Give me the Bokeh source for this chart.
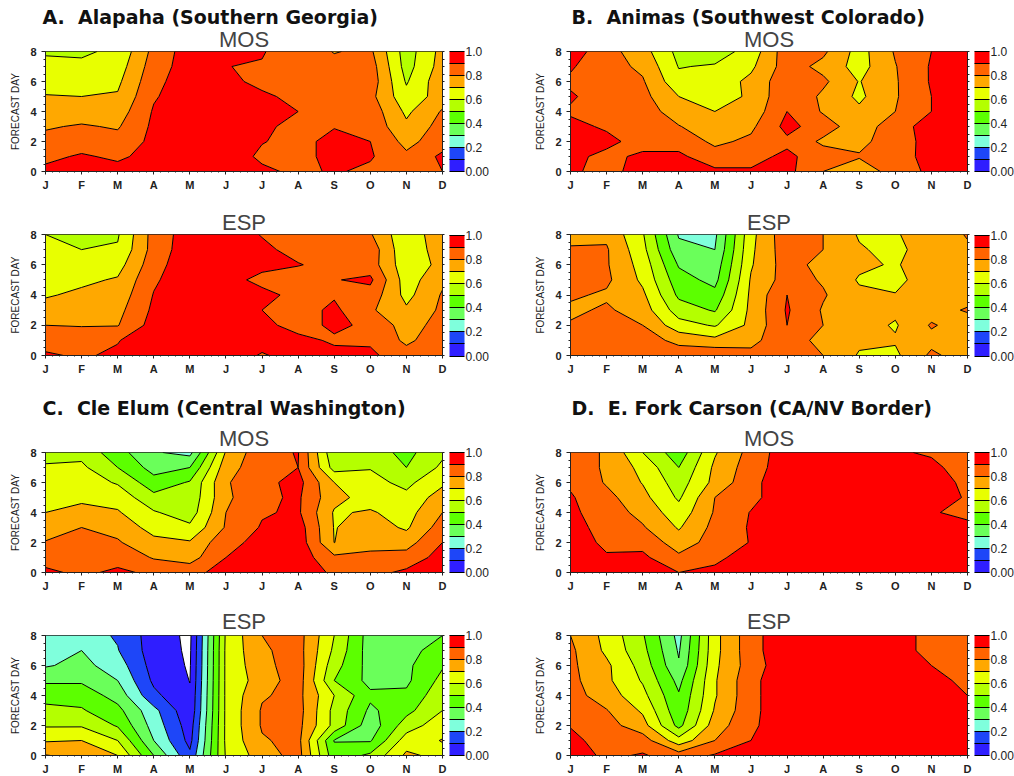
from bokeh.embed import file_html
from bokeh.resources import INLINE
from bokeh.plotting import figure
from bokeh.layouts import column, row
from bokeh.models import (ColorBar, FixedTicker, LinearAxis, LinearColorMapper, Title)
import numpy as np

MONTHS = ["J", "F", "M", "A", "M", "J", "J", "A", "S", "O", "N", "D"]
DAYS = [0, 1, 2, 3, 4, 5, 6, 7, 8]
LEVELS = [0, .1, .2, .3, .4, .5, .6, .7, .8, .9, 1.0]
COLORS = ["#2F1EFF", "#1E46F8", "#7FFFDC", "#6AFF5A", "#5CFF00", "#B4FF00", "#E8FF00", "#FFA800", "#FF6400", "#FF0000"]

# each inner list: one month, forecast days 0..8
A_MOS = [
 [.92,.88,.83,.79,.75,.705,.665,.625,.59],
 [.96,.91,.86,.81,.75,.70,.66,.62,.585],
 [.93,.885,.835,.79,.75,.71,.68,.65,.62],
 [.97,.93,.925,.92,.91,.89,.87,.85,.83],
 [.98,.97,.97,.97,.96,.96,.96,.95,.95],
 [.97,.96,.96,.95,.95,.94,.93,.901,.95],
 [.92,.88,.905,.92,.93,.92,.87,.895,.905],
 [.88,.87,.87,.87,.90,.87,.86,.85,.86],
 [.91,.93,.93,.895,.87,.86,.85,.83,.795],
 [.88,.91,.90,.87,.86,.83,.86,.85,.82],
 [.87,.82,.77,.72,.68,.63,.59,.56,.55],
 [.90,.92,.855,.84,.81,.75,.77,.745,.735],
]
A_ESP = [
 [.91,.87,.80,.74,.69,.665,.64,.62,.60],
 [.89,.85,.795,.755,.72,.68,.64,.60,.575],
 [.915,.895,.795,.77,.74,.71,.66,.61,.59],
 [.97,.96,.94,.92,.905,.885,.86,.84,.84],
 [.98,.98,.98,.98,.98,.97,.97,.96,.95],
 [.96,.96,.96,.96,.95,.94,.95,.96,.95],
 [.89,.94,.93,.90,.93,.87,.93,.92,.895],
 [.94,.93,.86,.86,.87,.85,.905,.87,.85],
 [.93,.885,.92,.92,.89,.895,.87,.86,.85],
 [.92,.885,.88,.815,.86,.92,.85,.86,.81],
 [.84,.78,.755,.715,.67,.65,.635,.62,.62],
 [.88,.86,.84,.82,.81,.78,.73,.76,.78],
]
B_MOS = [
 [.92,.92,.92,.92,.89,.91,.885,.91,.95],
 [.86,.88,.92,.89,.87,.86,.85,.84,.84],
 [.95,.915,.87,.86,.85,.83,.81,.78,.74],
 [.95,.92,.86,.805,.75,.70,.63,.595,.57],
 [.92,.84,.78,.74,.70,.67,.64,.61,.55],
 [.91,.87,.82,.78,.74,.71,.725,.68,.64],
 [.93,.92,.88,.93,.90,.89,.87,.85,.86],
 [.80,.85,.78,.85,.79,.78,.82,.77,.82],
 [.73,.81,.77,.74,.72,.68,.695,.66,.66],
 [.85,.85,.86,.86,.80,.79,.79,.795,.81],
 [.92,.94,.93,.94,.90,.90,.91,.91,.90],
 [.96,.96,.96,.96,.96,.96,.96,.96,.96],
]
B_ESP = [
 [.86,.85,.81,.78,.815,.86,.86,.82,.74],
 [.87,.86,.85,.815,.785,.82,.81,.81,.78],
 [.86,.85,.80,.75,.72,.68,.66,.63,.61],
 [.86,.77,.64,.55,.48,.44,.39,.33,.29],
 [.88,.73,.59,.49,.43,.37,.34,.30,.28],
 [.82,.78,.725,.725,.72,.71,.69,.68,.67],
 [.85,.85,.90,.91,.90,.845,.85,.86,.87],
 [.80,.77,.80,.79,.81,.79,.76,.80,.80],
 [.69,.72,.74,.74,.72,.69,.72,.71,.69],
 [.68,.71,.69,.72,.705,.67,.69,.67,.69],
 [.82,.77,.81,.76,.76,.76,.76,.76,.76],
 [.75,.75,.75,.81,.76,.76,.76,.79,.805],
]
C_MOS = [
 [.91,.88,.805,.76,.70,.67,.64,.61,.57],
 [.89,.86,.83,.80,.73,.68,.65,.62,.57],
 [.91,.88,.81,.77,.71,.66,.59,.50,.44],
 [.89,.79,.73,.66,.61,.53,.44,.36,.31],
 [.86,.76,.71,.62,.55,.53,.51,.40,.27],
 [.95,.90,.87,.81,.80,.78,.79,.76,.71],
 [.97,.96,.93,.91,.89,.88,.87,.86,.87],
 [.97,.96,.96,.95,.915,.915,.935,.90,.905],
 [.88,.82,.699,.695,.69,.73,.70,.56,.52],
 [.87,.83,.76,.75,.71,.66,.63,.595,.55],
 [.92,.84,.76,.685,.66,.625,.575,.50,.47],
 [.97,.94,.90,.85,.80,.75,.68,.62,.58],
]
C_ESP = [
 [.805,.69,.59,.53,.46,.385,.29,.25,.22],
 [.77,.70,.59,.51,.46,.385,.33,.30,.24],
 [.70,.60,.49,.43,.36,.30,.25,.205,.19],
 [.40,.30,.26,.23,.125,.08,.06,.05,.05],
 [.12,.07,.05,.02,.01,-.002,-.01,-.015,-.02],
 [.61,.62,.62,.62,.62,.62,.62,.62,.615],
 [.75,.79,.81,.81,.79,.75,.77,.785,.80],
 [.84,.83,.83,.84,.83,.85,.85,.84,.84],
 [.44,.395,.57,.57,.60,.50,.54,.58,.60],
 [.52,.39,.34,.38,.42,.37,.36,.35,.35],
 [.72,.65,.55,.47,.42,.38,.38,.37,.36],
 [.67,.705,.66,.60,.57,.53,.49,.44,.40],
]
D_MOS = [
 [.97,.96,.95,.94,.92,.91,.885,.86,.84],
 [.94,.91,.88,.86,.85,.83,.79,.785,.79],
 [.97,.92,.87,.81,.77,.73,.695,.67,.60],
 [.90,.82,.75,.69,.64,.585,.55,.50,.44],
 [.93,.87,.84,.83,.81,.80,.73,.72,.69],
 [.97,.96,.905,.91,.905,.87,.87,.85,.835],
 [.97,.97,.97,.97,.97,.97,.97,.96,.96],
 [.97,.97,.97,.97,.97,.97,.97,.97,.97],
 [.97,.97,.97,.97,.97,.97,.97,.97,.96],
 [.97,.97,.97,.97,.97,.96,.96,.95,.91],
 [.97,.97,.97,.97,.91,.95,.94,.92,.89],
 [.97,.97,.96,.93,.87,.89,.88,.86,.85],
]
D_ESP = [
 [.95,.925,.895,.87,.84,.83,.82,.82,.80],
 [.88,.86,.84,.805,.75,.72,.72,.68,.67],
 [.91,.85,.74,.685,.63,.59,.56,.53,.51],
 [.85,.64,.47,.43,.41,.37,.31,.29,.27],
 [.91,.80,.75,.71,.69,.69,.68,.67,.67],
 [.95,.90,.88,.87,.87,.87,.85,.86,.86],
 [.98,.98,.97,.98,.98,.98,.97,.98,.98],
 [.98,.98,.98,.98,.98,.98,.98,.98,.98],
 [.98,.98,.98,.98,.98,.98,.98,.98,.98],
 [.98,.98,.98,.98,.98,.97,.96,.92,.92],
 [.97,.97,.97,.97,.97,.94,.90,.885,.885],
 [.97,.97,.96,.93,.90,.87,.85,.83,.82],
]

FONT = "Liberation Sans"
INK = "#222222"


def panel(data, sub, head, head_offset, top, fh, left, right, sub_gap, head_gap):
    p = figure(frame_width=397, frame_height=fh, x_range=(0, 11), y_range=(0, 8),
               output_backend="svg", toolbar_location=None, x_axis_type=None, y_axis_type=None,
               min_border_left=left, min_border_right=right, min_border_top=top, min_border_bottom=20,
               outline_line_color=INK, outline_line_width=1, background_fill_color="white")
    p.grid.visible = False
    z = np.array(data).T
    p.contour(list(range(12)), DAYS, z, LEVELS, fill_color=COLORS, line_color="black", line_width=1)

    xa = LinearAxis(ticker=FixedTicker(ticks=list(range(12)),
                                       minor_ticks=[i / 5 for i in range(56)]),
                    major_label_overrides={i: m for i, m in enumerate(MONTHS)},
                    major_label_text_font=FONT, major_label_text_font_size="11px",
                    major_label_text_font_style="bold", major_label_standoff=4,
                    major_label_text_color=INK,
                    major_tick_in=0, major_tick_out=3, minor_tick_in=0, minor_tick_out=1,
                    axis_line_color=INK, major_tick_line_color=INK, minor_tick_line_color=INK)
    p.add_layout(xa, "below")
    ya = LinearAxis(ticker=FixedTicker(ticks=[0, 2, 4, 6, 8], minor_ticks=[i / 2 for i in range(17)]),
                    axis_label="FORECAST DAY", axis_label_text_font=FONT, axis_label_text_font_size="10px",
                    axis_label_text_font_style="normal", axis_label_standoff=6, axis_label_text_color=INK,
                    major_label_text_font=FONT, major_label_text_font_size="11px",
                    major_label_text_font_style="bold", major_label_standoff=5,
                    major_label_text_color=INK,
                    major_tick_in=0, major_tick_out=4, minor_tick_in=0, minor_tick_out=2,
                    axis_line_color=INK, major_tick_line_color=INK, minor_tick_line_color=INK)
    p.add_layout(ya, "left")
    yr = LinearAxis(ticker=FixedTicker(ticks=[], minor_ticks=[i / 2 for i in range(17)]),
                    major_label_standoff=0, minor_tick_in=0, minor_tick_out=2,
                    axis_line_color=INK, minor_tick_line_color=INK)
    p.add_layout(yr, "right")

    mapper = LinearColorMapper(palette=COLORS, low=0, high=1)
    labels = {0: "0.00", .2: "0.2", .4: "0.4", .6: "0.6", .8: "0.8", 1: "1.0"}
    cb = ColorBar(color_mapper=mapper, width=15, height=fh, margin=14, padding=5, location="center_left",
                  background_fill_color=None, border_line_color=None,
                  ticker=FixedTicker(ticks=[0, .2, .4, .6, .8, 1.0], minor_ticks=[.1, .3, .5, .7, .9]),
                  major_label_overrides=labels, major_label_text_font=FONT,
                  major_label_text_font_size="12px", major_label_text_color=INK,
                  major_tick_in=15, major_tick_line_color="black", minor_tick_in=15, minor_tick_line_color="black",
                  label_standoff=1, bar_line_color=None)
    p.add_layout(cb, "right")

    sub_title = Title(text=sub, align="center", text_font=FONT, text_font_size="22px",
                      text_font_style="normal", text_color="#444444", standoff=sub_gap)
    if head:
        p.title = Title(text=head, align="left", offset=head_offset, text_font="DejaVu Sans", text_font_size="19px",
                        text_font_style="bold", text_color="#111111", standoff=head_gap)
        p.add_layout(sub_title, "above")
    else:
        p.title = sub_title
    return p


r1 = row(panel(A_MOS, "MOS", "A. \u00a0Alapaha (Southern Georgia)", -3, 51, 120, 45, 90, 0, -6),
         panel(B_MOS, "MOS", "B. \u00a0Animas (Southwest Colorado)", 1, 51, 120, 37, 48, 0, -6), spacing=0)
r2 = row(panel(A_ESP, "ESP", None, 0, 41, 121, 45, 90, 0, 0),
         panel(B_ESP, "ESP", None, 0, 41, 121, 37, 48, 0, 0), spacing=0)
r3 = row(panel(C_MOS, "MOS", "C. \u00a0Cle Elum (Central Washington)", -3, 75, 120, 45, 90, 3, 8),
         panel(D_MOS, "MOS", "D. \u00a0E. Fork Carson (CA/NV Border)", 1, 75, 120, 37, 48, 3, 8), spacing=0)
r4 = row(panel(C_ESP, "ESP", None, 0, 41, 120, 45, 90, 3, 0),
         panel(D_ESP, "ESP", None, 0, 41, 120, 37, 48, 3, 0), spacing=0)
page = column(r1, r2, r3, r4, spacing=0)
open("out.html", "w").write(file_html(page, INLINE))
